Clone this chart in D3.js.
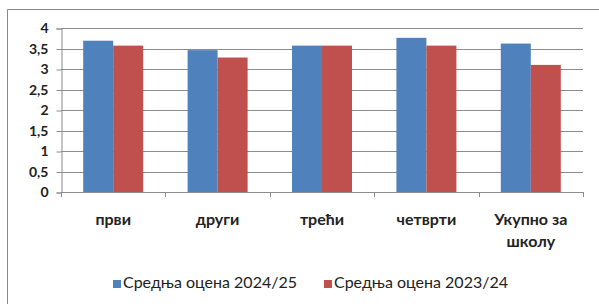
<!DOCTYPE html>
<html>
<head>
<meta charset="utf-8">
<script src="https://cdn.jsdelivr.net/npm/d3@7"></script>
<style>
  body { margin: 0; background: #fff; }
  svg text { font-family: Lato, "Open Sans", sans-serif; fill: #222; }
</style>
</head>
<body>
<div id="chart"></div>
<script>
const categories = [["први"], ["други"], ["трећи"], ["четврти"], ["Укупно за", "школу"]];
const seriesNames = ["Средња оцена 2024/25", "Средња оцена 2023/24"];
const values2425 = [3.69, 3.46, 3.57, 3.76, 3.62];
const values2324 = [3.57, 3.28, 3.57, 3.57, 3.10];
const yTicks = [0, 0.5, 1, 1.5, 2, 2.5, 3, 3.5, 4];
const colors = ["#4f81bd", "#c0504d"];

const W = 599, H = 304;
const sizes = { left : 61, right : 583, top : 28, bottom : 192 };

const svg = d3.select("#chart").append("svg")
    .attr("width", W).attr("height", H);

// outer frame
svg.append("path")
    .attr("d", `M7.5,${H} V9.5 H${W}`)
    .attr("fill", "none").attr("stroke", "#8a8a8a").attr("stroke-width", 1);

const idx = categories.map((d, i) => i);
const xScale = d3.scaleBand().domain(idx).range([sizes.left, sizes.right]);
const xInner = d3.scaleBand().domain([0, 1]).range([0, xScale.bandwidth()]).paddingOuter(0.74).paddingInner(0);
const yScale = d3.scaleLinear().domain([0, 4]).range([sizes.bottom, sizes.top]);

// gridlines
svg.append("g").selectAll("line")
    .data(yTicks.filter(d => d > 0))
    .enter().append("line")
    .attr("x1", sizes.left).attr("x2", sizes.right)
    .attr("y1", d => Math.round(yScale(d)) + 0.5)
    .attr("y2", d => Math.round(yScale(d)) + 0.5)
    .attr("stroke", "#8c8c8c");

// bars
const series = [values2425, values2324];
series.forEach((vals, s) => {
    svg.append("g").selectAll("rect")
        .data(vals)
        .enter().append("rect")
        .attr("x", (d, i) => xScale(i) + xInner(s))
        .attr("y", d => yScale(d))
        .attr("width", xInner.bandwidth())
        .attr("height", d => yScale(0) - yScale(d))
        .attr("fill", colors[s]);
});

// y axis
const yAxis = svg.append("g")
    .attr("transform", `translate(${sizes.left + 0.5}, 0.5)`)
    .call(d3.axisLeft(yScale).tickValues(yTicks).tickSize(5).tickPadding(8)
        .tickFormat(d => String(d).replace(".", ",")));
yAxis.select(".domain").attr("stroke", "#8c8c8c");
yAxis.selectAll(".tick line").attr("stroke", "#8c8c8c");
yAxis.selectAll(".tick text")
    .style("font-size", "14px").style("font-weight", "bold").attr("fill", "#222");

// x axis line and boundary ticks
const xg = svg.append("g");
xg.append("line")
    .attr("x1", sizes.left).attr("x2", sizes.right)
    .attr("y1", sizes.bottom + 0.5).attr("y2", sizes.bottom + 0.5)
    .attr("stroke", "#8c8c8c");
xg.selectAll(".bt")
    .data(idx.concat([categories.length]))
    .enter().append("line")
    .attr("x1", i => Math.round(i < categories.length ? xScale(i) : sizes.right) + 0.5)
    .attr("x2", i => Math.round(i < categories.length ? xScale(i) : sizes.right) + 0.5)
    .attr("y1", sizes.bottom).attr("y2", sizes.bottom + 5)
    .attr("stroke", "#8c8c8c");

// category labels
const cl = svg.append("g").selectAll("text")
    .data(categories)
    .enter().append("text")
    .attr("x", (d, i) => xScale(i) + xScale.bandwidth() / 2)
    .attr("y", 225)
    .attr("text-anchor", "middle")
    .style("font-size", "16px").style("font-weight", "bold");
cl.selectAll("tspan")
    .data(d => d)
    .enter().append("tspan")
    .attr("x", function() { return this.parentNode.getAttribute("x"); })
    .attr("dy", (d, i) => i === 0 ? 0 : 22)
    .text(d => d);

// legend
const legendX = [113, 324];
const lg = svg.append("g").selectAll("g")
    .data(seriesNames)
    .enter().append("g")
    .attr("transform", (d, i) => `translate(${legendX[i]}, 288)`);
lg.append("rect")
    .attr("x", 0).attr("y", -8).attr("width", 8).attr("height", 8)
    .attr("fill", (d, i) => colors[i]);
lg.append("text")
    .attr("x", 10).attr("y", 0)
    .style("font-size", "16px").style("font-weight", "normal")
    .text(d => d);
</script>
</body>
</html>
